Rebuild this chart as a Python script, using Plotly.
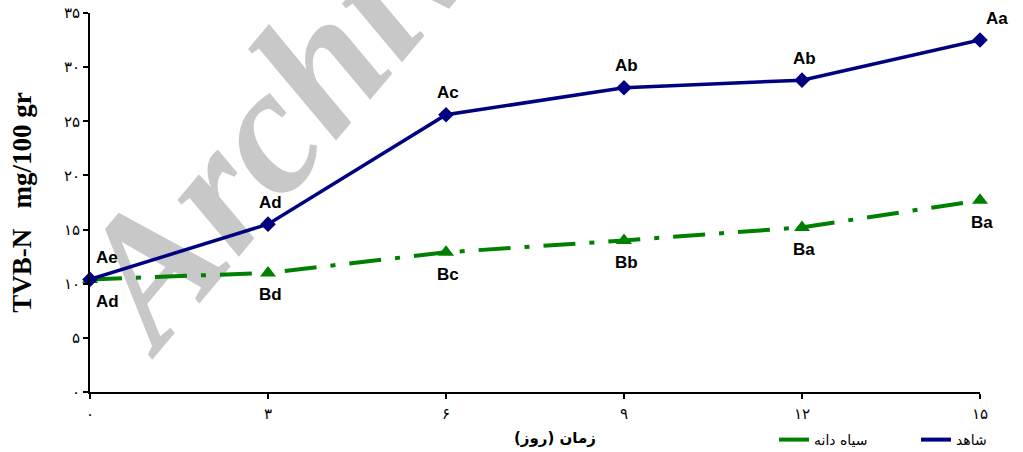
import plotly.graph_objects as go

days = [0, 3, 6, 9, 12, 15]
x_tick_text = ["۰", "۳", "۶", "۹", "۱۲", "۱۵"]
y_tick_vals = [0, 5, 10, 15, 20, 25, 30, 35]
y_tick_text = ["۰", "۵", "۱۰", "۱۵", "۲۰", "۲۵", "۳۰", "۳۵"]

control_name = "شاهد"
control_vals = [10.4, 15.5, 25.6, 28.1, 28.8, 32.5]
control_labels = ["Ae", "Ad", "Ac", "Ab", "Ab", "Aa"]

nigella_name = "سیاه دانه"
nigella_vals = [10.4, 11.0, 12.9, 14.0, 15.2, 17.7]
nigella_labels = ["Ad", "Bd", "Bc", "Bb", "Ba", "Ba"]

x_title = "زمان (روز)"
y_title = "TVB-N   mg/100 gr"
watermark = "Archive"

BLUE = "#000080"
GREEN = "#008000"
W, H = 1023, 452
L, R, T, B = 90, 43, 13, 60

fig = go.Figure()

fig.add_trace(go.Scatter(
    x=days, y=nigella_vals, mode="lines+markers", showlegend=False,
    line=dict(color=GREEN, width=4, dash="32px,14px,5px,14px"),
    marker=dict(symbol="triangle-up", size=14, color=GREEN),
    cliponaxis=False, hoverinfo="skip"))
fig.add_trace(go.Scatter(
    x=days, y=control_vals, mode="lines+markers", showlegend=False,
    line=dict(color=BLUE, width=3.5),
    marker=dict(symbol="diamond", size=12, color=BLUE),
    cliponaxis=False, hoverinfo="skip"))

# legend-only entries (solid short lines)
fig.add_trace(go.Scatter(x=[None], y=[None], mode="lines", name=nigella_name,
                         line=dict(color=GREEN, width=4)))
fig.add_trace(go.Scatter(x=[None], y=[None], mode="lines", name=control_name,
                         line=dict(color=BLUE, width=4)))

annotations = []
# watermark (moved behind the data by post_script)
annotations.append(dict(
    text="<b><i>" + watermark + "</i></b>", xref="paper", yref="paper",
    x=(296 - L) / (W - L - R), y=(H - B - 92) / (H - T - B),
    showarrow=False, textangle=-50,
    font=dict(family="Liberation Serif", size=182, color="#c8c8c8"),
    xanchor="center", yanchor="middle"))

last = len(days) - 1
for i, (d, v, lab) in enumerate(zip(days, control_vals, control_labels)):
    annotations.append(dict(
        x=d, y=v, text="<b>" + lab + "</b>", showarrow=False,
        xshift=17 if i in (0, last) else 2, yshift=22,
        font=dict(family="Liberation Sans", size=17, color="black")))
for i, (d, v, lab) in enumerate(zip(days, nigella_vals, nigella_labels)):
    annotations.append(dict(
        x=d, y=v, text="<b>" + lab + "</b>", showarrow=False,
        xshift=17 if i == 0 else 2, yshift=-22,
        font=dict(family="Liberation Sans", size=17, color="black")))

annotations.append(dict(
    text="<b>" + x_title + "</b>", xref="paper", yref="paper",
    x=(555 - L) / (W - L - R), y=(H - B - 438) / (H - T - B), showarrow=False,
    xanchor="center", yanchor="middle",
    font=dict(family="DejaVu Sans", size=15, color="black")))

fig.update_layout(
    width=W, height=H,
    margin=dict(l=L, r=R, t=T, b=B, autoexpand=False),
    paper_bgcolor="white", plot_bgcolor="white",
    annotations=annotations,
    showlegend=True,
    legend=dict(orientation="h", xref="container", yref="container",
                x=774 / W, y=(H - 440) / H,
                xanchor="left", yanchor="middle",
                font=dict(family="DejaVu Sans", size=14, color="black"),
                bgcolor="rgba(0,0,0,0)", entrywidth=97, entrywidthmode="pixels"),
    xaxis=dict(range=[0, 15], tickvals=days, ticktext=x_tick_text,
               showgrid=False, zeroline=False, showline=True, automargin=False,
               linecolor="black", linewidth=2, ticks="outside", ticklen=5,
               tickwidth=1.5, tickcolor="black",
               tickfont=dict(family="DejaVu Sans", size=15, color="black"),
               ticklabelstandoff=2),
    yaxis=dict(range=[0, 35], tickvals=y_tick_vals, ticktext=y_tick_text,
               showgrid=False, zeroline=False, showline=True, automargin=False,
               linecolor="black", linewidth=2, ticks="outside", ticklen=5,
               tickwidth=1.5, tickcolor="black",
               tickfont=dict(family="DejaVu Sans", size=15, color="black"),
               title=dict(text="<b>" + y_title + "</b>", standoff=24,
                          font=dict(family="Liberation Serif", size=27, color="black"))),
)

post = """
document.body.style.margin = '0';
document.body.style.padding = '0';
var gd = document.getElementById('{plot_id}');
var a = gd.querySelector('g.annotation[data-index="0"]');
var cl = gd.querySelector('.cartesianlayer');
if (a && cl) { cl.parentNode.insertBefore(a, cl); }
"""

fig.write_html("out.html", post_script=post, config={"displayModeBar": False})
